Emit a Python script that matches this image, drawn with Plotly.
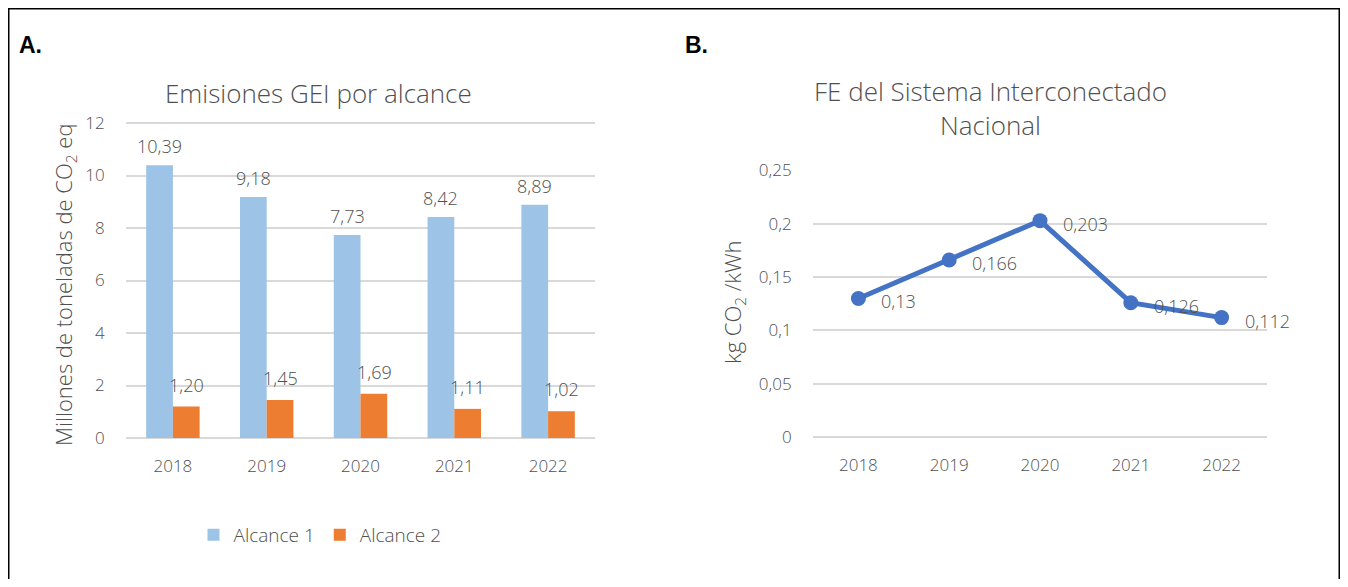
import plotly.graph_objects as go

years = ["2018", "2019", "2020", "2021", "2022"]
alcance1 = [10.39, 9.18, 7.73, 8.42, 8.89]
alcance2 = [1.20, 1.45, 1.69, 1.11, 1.02]
fe_sin = [0.13, 0.166, 0.203, 0.126, 0.112]

y1_ticks = [0, 2, 4, 6, 8, 10, 12]
y2_ticks = [0, 0.05, 0.1, 0.15, 0.2, 0.25]
y2_ticktext = ["0", "0,05", "0,1", "0,15", "0,2", "0,25"]

xpos = list(range(len(years)))

# page has an 8px body margin: figure is sized to fit the 1348x587 window
OFF = 8
W, H = 1348 - 2 * OFF, 587 - 2 * OFF
GRAY = "#505050"
FONT = "Open Sans"
WT = 300


def px_x(x):
    return (x - OFF) / W


def px_y(y):
    return (H - (y - OFF)) / H


def fnt(size, color=GRAY):
    return dict(family=FONT, size=size, color=color, weight=WT)


fig = go.Figure()

fig.add_trace(go.Bar(x=xpos, y=alcance1, name="Alcance 1", marker_color="#9DC3E6",
                     marker_line_width=0, offsetgroup="a1", xaxis="x", yaxis="y"))
fig.add_trace(go.Bar(x=xpos, y=alcance2, name="Alcance 2", marker_color="#ED7D31",
                     marker_line_width=0, offsetgroup="a2", xaxis="x", yaxis="y"))
fig.add_trace(go.Scatter(x=xpos, y=fe_sin, mode="lines+markers",
                         line=dict(color="#4472C4", width=5),
                         marker=dict(color="#4472C4", size=15),
                         showlegend=False, xaxis="x2", yaxis="y2"))

annotations = []
for i in xpos:
    annotations.append(dict(x=i, y=alcance1[i], xref="x", yref="y",
                            text=f"{alcance1[i]:.2f}".replace(".", ","),
                            showarrow=False, xshift=-13.5, yshift=19, yanchor="middle",
                            font=fnt(18)))
    annotations.append(dict(x=i, y=alcance2[i], xref="x", yref="y",
                            text=f"{alcance2[i]:.2f}".replace(".", ","),
                            showarrow=False, xshift=13.5, yshift=22, yanchor="middle",
                            font=fnt(18)))
    annotations.append(dict(x=i, y=fe_sin[i], xref="x2", yref="y2",
                            text=str(fe_sin[i]).replace(".", ","),
                            showarrow=False, xanchor="left", xshift=21, yshift=-3,
                            yanchor="middle", font=fnt(18)))

annotations += [
    dict(x=px_x(17), y=px_y(45), xref="paper", yref="paper", xanchor="left", yanchor="middle",
         text="<b>A.</b>", showarrow=False,
         font=dict(family="Liberation Sans", size=23, color="black")),
    dict(x=px_x(683), y=px_y(45), xref="paper", yref="paper", xanchor="left", yanchor="middle",
         text="<b>B.</b>", showarrow=False,
         font=dict(family="Liberation Sans", size=23, color="black")),
    dict(x=px_x(318), y=px_y(93), xref="paper", yref="paper", xanchor="center", yanchor="middle",
         text="Emisiones GEI por alcance", showarrow=False, font=fnt(26)),
    dict(x=px_x(990), y=px_y(108), xref="paper", yref="paper", xanchor="center", yanchor="middle",
         text="FE del Sistema Interconectado<br>Nacional", showarrow=False, font=fnt(26)),
    dict(x=px_x(65), y=px_y(285), xref="paper", yref="paper", xanchor="center", yanchor="middle",
         text="Millones de toneladas de CO<sub>2</sub> eq", textangle=-90, showarrow=False,
         font=fnt(22)),
    dict(x=px_x(734), y=px_y(302), xref="paper", yref="paper", xanchor="center", yanchor="middle",
         text="kg CO<sub>2</sub> /kWh", textangle=-90, showarrow=False, font=fnt(22)),
]

xaxis_common = dict(showline=False, type="linear", showgrid=False, zeroline=False,
                    range=[-0.5, len(years) - 0.5], tickmode="array",
                    tickvals=xpos, ticktext=years,
                    ticks="outside", ticklen=13, tickcolor="rgba(0,0,0,0)",
                    tickfont=fnt(17), automargin=False)
yaxis_common = dict(showline=False, type="linear", ticks="outside", ticklen=17,
                    tickcolor="rgba(0,0,0,0)",
                    tickfont=fnt(17), automargin=False, tickmode="array",
                    showgrid=True, gridcolor="#D9D9D9", gridwidth=2,
                    zeroline=True, zerolinecolor="#D9D9D9", zerolinewidth=2)

fig.update_layout(
    width=W, height=H,
    margin=dict(l=0, r=0, t=0, b=0, autoexpand=False),
    paper_bgcolor="white", plot_bgcolor="white",
    barmode="group", bargap=0.43, bargroupgap=0,
    showlegend=True,
    legend=dict(orientation="h", x=px_x(320), y=px_y(535), xanchor="center", yanchor="middle",
                font=fnt(19), traceorder="normal"),
    xaxis=dict(domain=[px_x(126), px_x(595)], anchor="y", **xaxis_common),
    yaxis=dict(domain=[px_y(438), px_y(122)], anchor="x", range=[0, 12.04],
               tickvals=y1_ticks, ticktext=[str(t) for t in y1_ticks], **yaxis_common),
    xaxis2=dict(domain=[px_x(813), px_x(1267)], anchor="y2", **xaxis_common),
    yaxis2=dict(domain=[px_y(437), px_y(170)], anchor="x2", range=[0, 0.2505],
                tickvals=y2_ticks, ticktext=y2_ticktext, **yaxis_common),
    annotations=annotations,
    shapes=[dict(type="rect", xref="paper", yref="paper",
                 x0=0, x1=1, y0=-0.05, y1=1,
                 line=dict(color="black", width=3), fillcolor="rgba(0,0,0,0)")],
)

fig.write_html("out.html")
